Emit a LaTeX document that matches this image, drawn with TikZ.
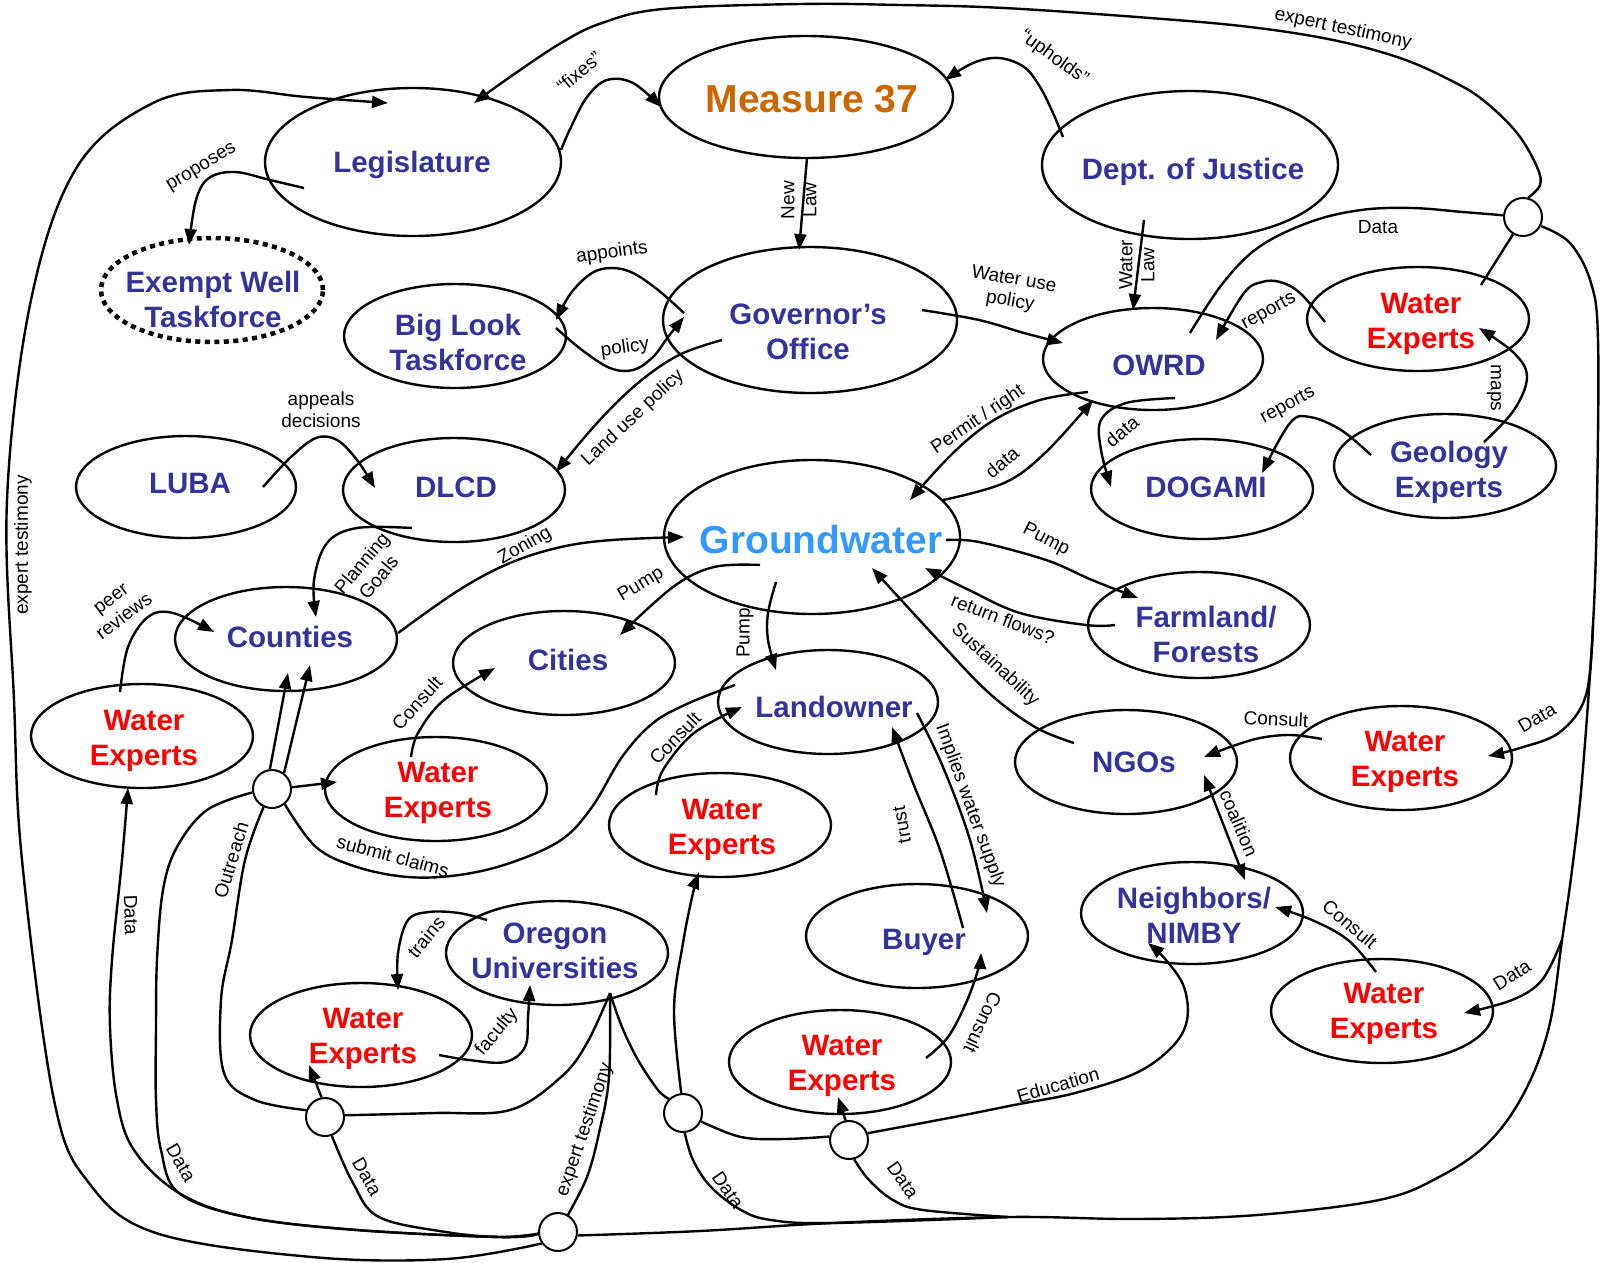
\documentclass[tikz,border=0pt]{standalone}
\usepackage{fontspec}
\setmainfont{Liberation Sans}
\usetikzlibrary{shapes.geometric,arrows.meta,calc}
\definecolor{nblue}{RGB}{51,51,153}
\definecolor{nred}{RGB}{255,0,0}
\definecolor{norange}{RGB}{204,102,0}
\definecolor{ngw}{RGB}{51,153,255}
\pgfdeclarelayer{fg}
\pgfsetlayers{main,fg}
\begin{document}
\begin{tikzpicture}[x=1pt,y=-1pt,
  ell/.style={draw, ellipse, line width=2.4pt, inner sep=0pt, minimum width=222pt, minimum height=104pt},
  nt/.style={inner sep=0pt, align=center, text=nblue, font=\fontsize{29.5}{35}\selectfont\bfseries},
  wt/.style={nt, text=nred},
  junc/.style={draw, circle, fill=white, line width=2pt, minimum size=38pt, inner sep=0pt},
  conn/.style={line width=2.4pt},
  arr/.style={conn, -{Triangle[length=16pt,width=12pt]}},
  dbl/.style={conn, {Triangle[length=16pt,width=12pt]}-{Triangle[length=16pt,width=12pt]}},
  lab/.style={font=\fontsize{19}{22}\selectfont, inner sep=0pt, align=center},
  sm/.style={smooth, tension=0.6}
]
\useasboundingbox (0,0) rectangle (1602,1262);

% ---------- ellipses ----------
\node[ell, minimum width=294pt, minimum height=122pt] (meas) at (806,97) {};
\node[ell, minimum width=296pt, minimum height=148pt] (leg) at (413,162) {};
\node[ell, minimum width=296pt, minimum height=148pt] (doj) at (1190,165) {};
\node[ell, line width=4.5pt, dash pattern=on 5pt off 4.5pt] (ewt) at (212,290) {};
\node[ell] (blt) at (455,336) {};
\node[ell, minimum width=294pt, minimum height=146pt] (gov) at (810,320) {};
\node[ell, minimum width=220pt, minimum height=102pt] (owrd) at (1153,359) {};
\node[ell] (weA) at (1418,319) {};
\node[ell, minimum width=220pt, minimum height=102pt] (luba) at (186,487) {};
\node[ell] (dlcd) at (454,490) {};
\node[ell, minimum width=296pt, minimum height=154pt] (gw) at (812,537) {};
\node[ell, minimum height=100pt] (dog) at (1202,489) {};
\node[ell] (geo) at (1445,466) {};
\node[ell, minimum height=106pt] (farm) at (1199,625) {};
\node[ell] (cnty) at (286,639) {};
\node[ell] (city) at (564,663) {};
\node[ell, minimum width=220pt] (land) at (828,702) {};
\node[ell] (weL) at (142,736) {};
\node[ell] (weM) at (436,789) {};
\node[ell] (weLand) at (720,825) {};
\node[ell] (ngo) at (1126,762) {};
\node[ell] (weN) at (1401,758) {};
\node[ell, minimum height=102pt] (nimby) at (1192,913) {};
\node[ell] (buyer) at (917,936) {};
\node[ell] (univ) at (557,953) {};
\node[ell] (weT) at (361,1035) {};
\node[ell] (weB) at (840,1062) {};
\node[ell] (weR) at (1382,1011) {};

% ---------- node texts ----------
\node[nt, text=norange, font=\fontsize{39}{46}\selectfont\bfseries] (measT) at (812,99) {Measure 37};
\node[nt] (legT) at (412,165) {Legislature};
\node[nt] (dojT) at (1193,172) {Dept. of Justice};
\node[nt] (ewtT) at (213,299) {Exempt Well\\Taskforce};
\node[nt] (bltT) at (458,342) {Big Look\\Taskforce};
\node[nt] (govT) at (808,332) {Governor’s\\Office};
\node[nt] (owrdT) at (1159,365) {OWRD};
\node[wt] (weAT) at (1421,324) {Water\\Experts};
\node[nt] (lubaT) at (190,483) {LUBA};
\node[nt] (dlcdT) at (456,487) {DLCD};
\node[nt, text=ngw, font=\fontsize{39}{46}\selectfont\bfseries] (gwT) at (821,540) {Groundwater};
\node[nt] (dogT) at (1206,487) {DOGAMI};
\node[nt] (geoT) at (1449,472) {Geology\\Experts};
\node[nt] (farmT) at (1206,634) {Farmland/\\Forests};
\node[nt] (cntyT) at (290,637) {Counties};
\node[nt] (cityT) at (568,660) {Cities};
\node[nt] (landT) at (834,707) {Landowner};
\node[wt] (weLT) at (144,741) {Water\\Experts};
\node[wt] (weMT) at (438,793) {Water\\Experts};
\node[wt] (weLandT) at (722,830) {Water\\Experts};
\node[nt] (ngoT) at (1134,762) {NGOs};
\node[wt] (weNT) at (1405,762) {Water\\Experts};
\node[nt] (nimbyT) at (1194,915) {Neighbors/\\NIMBY};
\node[nt] (buyerT) at (924,942) {Buyer};
\node[nt] (univT) at (555,951) {Oregon\\Universities};
\node[wt] (weTT) at (363,1039) {Water\\Experts};
\node[wt] (weBT) at (842,1066) {Water\\Experts};
\node[wt] (weRT) at (1384,1014) {Water\\Experts};

% ---------- junctions ----------
\begin{pgfonlayer}{fg}
\node[junc] (j1) at (1523,217) {};
\node[junc] (j2) at (272,789) {};
\node[junc] (j3) at (325,1117) {};
\node[junc] (j4) at (558,1232) {};
\node[junc] (j5) at (683,1113) {};
\node[junc] (j6) at (849,1140) {};
\end{pgfonlayer}
\coordinate (br1) at (1593,625);
\coordinate (br2) at (1562,940);
\coordinate (bm) at (1008,1217);
\coordinate (uh) at ($(univ)+(53,40)$);

% ---------- connectors ----------
\draw[arr] plot[sm] coordinates {($(leg)+(148,-12)$) (571,127) (587,97) (607,80) (633,83) ($(meas)+(-145,10)$)};
\draw[arr] plot[sm] coordinates {($(leg)+(-109,26)$) (270,180) (235,172) (209,178) (196,200) ($(ewt)+(-23,-45)$)};
\draw[arr] plot[sm] coordinates {($(doj)+(-127,-28)$) (1053,113) (1040,87) (1024,67) (999,58) (973,63) ($(meas)+(139,-17)$)};
\draw[arr] ($(meas)+(1,61)$) -- ($(gov)+(-11,-70)$);
\draw[arr] ($(doj)+(-46,55)$) -- ($(owrd)+(-20,-49)$);
\draw[arr] plot[sm] coordinates {($(gov)+(-126,-7)$) (658,290) (633,273) (612,268) (592,273) (571,293) ($(blt)+(101,-16)$)};
\draw[arr] plot[sm] coordinates {($(blt)+(101,-8)$) (582,350) (610,368) (633,370) (653,357) (668,337) ($(gov)+(-126,-3)$)};
\draw[arr] plot[sm] coordinates {($(gov)+(-88,20)$) (679,355) (638,383) (597,423) ($(dlcd)+(102,-18)$)};
\draw[arr] plot[sm] coordinates {($(gov)+(112,-10)$) (979,320) (1024,333) ($(owrd)+(-90,-16)$)};
\draw[arr] plot[sm] coordinates {($(weA)+(-93,3)$) (1300,293) (1280,282) (1262,282) (1244,293) ($(owrd)+(63,-19)$)};
\draw[conn] plot[sm] coordinates {(j1.175) (1463,212) (1412,208) (1361,210) (1310,222) (1259,247) (1223,283) ($(owrd)+(37,-26)$)};
\draw[conn] (j1.-120) -- ($(weA)+(63,-34)$);
\draw[arr] plot[sm] coordinates {(j1.75) (1540,185) (1537,167) (1517,133) (1483,100) (1450,80) (1400,58) (1333,40) (1250,27) (1150,18) (1004,8) (900,5) (800,4) (663,9) (602,23) (561,43) (510,77) ($(leg)+(61,-59)$)};
\draw[conn] plot[sm] coordinates {(j1.-27) (1570,243) (1591,283) (1598,340) (1597,500) (br1) (1582,780) (1572,870) (br2) (1549,1027) (1524,1093) (1488,1143) (1439,1177) (1379,1200) (1257,1215) (1136,1219) (bm) (832,1223) (700,1231) (j4.-10)};
\draw[arr] plot[sm] coordinates {(br1) (1586,695) (1560,732) (1520,748) ($(weN)+(87,-2)$)};
\draw[arr] plot[sm] coordinates {(br2) (1542,980) (1512,1000) ($(weR)+(82,2)$)};
\draw[arr] plot[sm] coordinates {(j4.215) (446,1259) (312,1257) (156,1233) (89,1183) (54,1100) (22,860) (14,700) (7,500) (31,300) (77,167) (153,103) (230,90) (306,97) ($(leg)+(-25,-59)$)};
\draw[arr] plot[sm] coordinates {(j4.185) (500,1237) (357,1230) (246,1217) (179,1193) (134,1150) (117,1100) (110,1027) (112,960) (122,860) ($(weL)+(-14,52)$)};
\draw[conn] plot[sm] coordinates {(j2.190) (207,810) (177,847) (163,890) (157,960) (156,1027) (156,1100) (161,1150) (179,1193) (246,1217) (357,1230) (500,1237) (j4.185)};
\draw[conn] plot[sm] coordinates {(j2.-115) (245,860) (232,940) (221,1000) (224,1073) (255,1100) (j3.160)};
\draw[arr] (j2.96) -- ($(cnty)+(2,34)$);
\draw[arr] (j2.53) -- ($(cnty)+(24,26)$);
\draw[arr] (j2.5) -- ($(weM)+(-99,-7)$);
\draw[conn] plot[sm] coordinates {(j2.-50) (316,847) (357,867) (408,877) (459,875) (510,863) (561,840) (592,807) (622,757) (653,723) (689,703) ($(land)+(-93,-17)$)};
\draw[arr] (j3.100) -- ($(weT)+(-52,30)$);
\draw[conn] plot[sm] coordinates {(j3.5) (434,1113) (510,1110) (561,1077) (587,1043) (uh)};
\draw[conn] plot[sm] coordinates {(j3.-70) (353,1183) (379,1217) (446,1232) (500,1237) (j4.185)};
\draw[conn] plot[sm] coordinates {(j4.60) (587,1177) (599,1133) (609,1077) (uh)};
\draw[conn] plot[sm] coordinates {(uh) (622,1027) (638,1060) (658,1090) (j5.135)};
\draw[arr] plot[sm] coordinates {(j5.95) (674,1010) (683,943) (693,893) ($(weLand)+(-21,48)$)};
\draw[conn] plot[sm] coordinates {(j5.-25) (741,1137) (784,1139) (j6.170)};
\draw[conn] plot[sm] coordinates {(j5.-85) (693,1160) (711,1187) (741,1210) (771,1220) (832,1223) (bm)};
\draw[arr] (j6.100) -- ($(weB)+(-2,35)$);
\draw[arr] plot[sm] coordinates {(j6.20) (954,1117) (1014,1105) (1075,1093) (1136,1073) (1172,1047) (1187,1020) (1184,987) (1166,960) ($(nimby)+(-44,30)$)};
\draw[conn] plot[sm] coordinates {(j6.-75) (869,1180) (893,1200) (923,1210) (bm)};
\draw[arr] plot[sm] coordinates {($(gw)+(-52,28)$) (714,567) (673,587) ($(city)+(56,-28)$)};
\draw[arr] plot[sm] coordinates {($(gw)+(-36,45)$) (768,613) (768,640) ($(land)+(-52,-32)$)};
\draw[arr] plot[sm] coordinates {($(cnty)+(112,-6)$) (459,590) (510,563) (561,547) (612,540) ($(gw)+(-128,0)$)};
\draw[arr] plot[sm] coordinates {($(gw)+(134,3)$) (979,542) (1046,560) (1092,580) ($(farm)+(-61,-27)$)};
\draw[arr] plot[sm] coordinates {($(farm)+(-84,0)$) (1086,625) (1020,613) (969,590) ($(gw)+(113,31)$)};
\draw[arr] plot[sm] coordinates {($(ngo)+(-52,-19)$) (1035,727) (989,693) (938,640) ($(gw)+(60,31)$)};
\draw[arr] plot[sm] coordinates {($(owrd)+(-65,33)$) (1040,400) (994,420) (953,453) ($(gw)+(98,-37)$)};
\draw[arr] plot[sm] coordinates {($(gw)+(131,-37)$) (1004,483) (1045,453) ($(owrd)+(-60,41)$)};
\draw[arr] plot[sm] coordinates {($(owrd)+(22,39)$) (1126,403) (1101,420) (1101,450) ($(dog)+(-91,-2)$)};
\draw[arr] plot[sm] coordinates {($(geo)+(-74,-11)$) (1341,430) (1310,417) (1290,423) ($(dog)+(60,-16)$)};
\draw[arr] plot[sm] coordinates {($(geo)+(39,-24)$) (1514,410) (1527,377) (1514,353) ($(weA)+(61,9)$)};
\draw[arr] plot[sm] coordinates {($(luba)+(77,0)$) (291,457) (316,438) (337,440) (357,460) ($(dlcd)+(-79,-2)$)};
\draw[arr] plot[sm] coordinates {($(dlcd)+(-42,38)$) (357,528) (327,543) (314,580) ($(cnty)+(30,-22)$)};
\draw[arr] plot[sm] coordinates {($(weL)+(-22,-44)$) (128,647) (148,617) (173,613) ($(cnty)+(-72,-7)$)};
\draw[arr] plot[sm] coordinates {($(weM)+(-25,-32)$) (418,733) (444,700) ($(city)+(-69,5)$)};
\draw[arr] plot[sm] coordinates {($(weLand)+(-64,-30)$) (663,770) (694,733) ($(land)+(-86,5)$)};
\draw[arr] plot[sm] coordinates {($(weN)+(-79,-19)$) (1291,735) (1260,738) (1230,747) ($(ngo)+(78,-5)$)};
\draw[dbl] ($(ngo)+(78,13)$) -- ($(nimby)+(53,-33)$);
\draw[arr] plot[sm] coordinates {($(weR)+(-6,-39)$) (1348,940) (1312,920) ($(nimby)+(83,-6)$)};
\draw[arr] plot[sm] coordinates {($(land)+(89,11)$) (943,767) (970,840) ($(buyer)+(70,-23)$)};
\draw[arr] plot[sm] coordinates {($(buyer)+(46,-8)$) (940,850) (913,783) ($(land)+(64,25)$)};
\draw[arr] plot[sm] coordinates {($(weB)+(86,-4)$) (948,1037) (966,1003) (978,970) ($(buyer)+(64,17)$)};
\draw[arr] plot[sm] coordinates {($(univ)+(-70,-33)$) (459,913) (429,912) (408,920) (398,953) ($(weT)+(37,-45)$)};
\draw[arr] plot[sm] coordinates {($(weT)+(78,20)$) (469,1060) (505,1062) (525,1047) (528,1017) ($(univ)+(-27,32)$)};

% ---------- labels ----------
\node[lab, rotate=40] (t1) at (579,72) {“fixes”};
\node[lab, rotate=31] (t2) at (202,168) {proposes};
\node[lab, rotate=-36] (t3) at (1054,58) {“upholds”};
\node[lab, rotate=-12] (t4) at (1343,29) {expert testimony};
\node[lab, rotate=90] (t5) at (799,200) {New\\Law};
\node[lab, rotate=90] (t6) at (1137,265) {Water\\Law};
\node[lab, rotate=8] (t7) at (612,253) {appoints};
\node[lab, rotate=8] (t8) at (625,348) {policy};
\node[lab, rotate=43] (t9) at (633,418) {Land use policy};
\node[lab, rotate=-10] (t10) at (1012,291) {Water use\\policy};
\node[lab] (t11) at (1378,227) {Data};
\node[lab, rotate=29] (t12) at (1269,312) {reports};
\node[lab, rotate=34] (t13) at (978,420) {Permit / right};
\node[lab, rotate=40] (t14) at (1002,462) {data};
\node[lab, rotate=40] (t15) at (1122,431) {data};
\node[lab, rotate=29] (t16) at (1288,406) {reports};
\node[lab, rotate=-90] (t17) at (1494,388) {maps};
\node[lab] (t18) at (321,410) {appeals\\decisions};
\node[lab, rotate=50] (t19) at (370,570) {Planning\\Goals};
\node[lab, rotate=30] (t20) at (525,546) {Zoning};
\node[lab, rotate=37] (t21) at (118,608) {peer\\reviews};
\node[lab, rotate=31] (t22) at (641,585) {Pump};
\node[lab, rotate=90] (t23) at (745,633) {Pump};
\node[lab, rotate=48] (t24) at (417,703) {Consult};
\node[lab, rotate=46] (t25) at (675,738) {Consult};
\node[lab, rotate=-15] (t26) at (393,856) {submit claims};
\node[lab, rotate=-27] (t27) at (1046,540) {Pump};
\node[lab, rotate=-21] (t28) at (1003,619) {return flows?};
\node[lab, rotate=-43] (t29) at (995,665) {Sustainability};
\node[lab, rotate=-3] (t30) at (1276,719) {Consult};
\node[lab, rotate=-67] (t31) at (1239,823) {coalition};
\node[lab, rotate=30] (t32) at (1537,718) {Data};
\node[lab, rotate=-70] (t33) at (970,806) {Implies water supply};
\node[lab, rotate=100] (t34) at (902,825) {trust};
\node[lab, rotate=-115] (t35) at (983,1023) {Consult};
\node[lab, rotate=-40] (t36) at (1350,924) {Consult};
\node[lab, rotate=16] (t37) at (1058,1085) {Education};
\node[lab, rotate=32] (t38) at (1512,975) {Data};
\node[lab, rotate=-55] (t39) at (903,1180) {Data};
\node[lab, rotate=-55] (t40) at (728,1190) {Data};
\node[lab, rotate=50] (t41) at (426,937) {trains};
\node[lab, rotate=50] (t42) at (497,1032) {faculty};
\node[lab, rotate=-60] (t43) at (367,1177) {Data};
\node[lab, rotate=-60] (t44) at (181,1163) {Data};
\node[lab, rotate=-88] (t45) at (131,915) {Data};
\node[lab, rotate=73] (t46) at (231,860) {Outreach};
\node[lab, rotate=71] (t47) at (585,1130) {expert testimony};
\node[lab, rotate=90] (t48) at (23,545) {expert testimony};
\end{tikzpicture}
\end{document}
